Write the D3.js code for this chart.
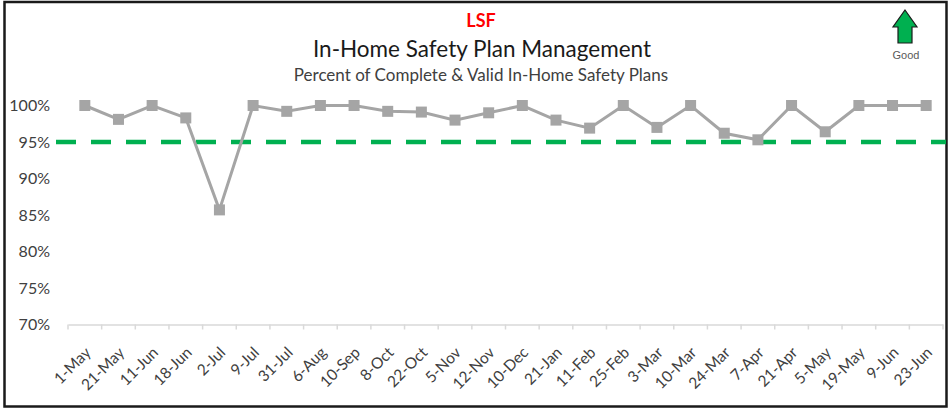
<!DOCTYPE html>
<meta charset="utf-8">
<style>
body { margin: 0; background: #fff; font-family: Lato, "Open Sans", sans-serif; }
.axis text { font-family: Lato, sans-serif; fill: #404040; }
.x.axis path, .x.axis line { stroke: #d9d9d9; stroke-width: 1.5px; }
.y.axis path, .y.axis line { display: none; }
</style>
<body>
<script src="https://d3js.org/d3.v7.min.js"></script>
<script>

var dates = ["1-May", "21-May", "11-Jun", "18-Jun", "2-Jul", "9-Jul", "31-Jul", "6-Aug", "10-Sep",
  "8-Oct", "22-Oct", "5-Nov", "12-Nov", "10-Dec", "21-Jan", "11-Feb", "25-Feb", "3-Mar", "10-Mar",
  "24-Mar", "7-Apr", "21-Apr", "5-May", "19-May", "9-Jun", "23-Jun"];
var pct = [100, 98.1, 100, 98.3, 85.7, 100, 99.2, 100, 100, 99.2, 99.1, 98.0, 99.0, 100, 98.0, 96.9,
  100, 97.0, 100, 96.2, 95.3, 100, 96.4, 100, 100, 100];
var goal = 95;
var yTicks = [70, 75, 80, 85, 90, 95, 100];

var W = 949, H = 410;
var margin = {top: 105.5, right: 6, bottom: 85, left: 68},
    width = W - margin.left - margin.right,
    height = H - margin.top - margin.bottom;

var svg = d3.select("body").append("svg")
    .attr("width", W)
    .attr("height", H);

// frame
svg.append("rect")
    .attr("x", 4.5).attr("y", 2).attr("width", 942).attr("height", 404.5)
    .attr("fill", "none").attr("stroke", "#1a1a1a").attr("stroke-width", 2.5);

// titles
svg.append("text").attr("x", 481).attr("y", 27).attr("text-anchor", "middle")
    .style("font-family", "Lato, sans-serif").style("font-weight", "bold")
    .style("font-size", "18px").style("fill", "#ff0000").text("LSF");
svg.append("text").attr("x", 482).attr("y", 57).attr("text-anchor", "middle")
    .style("font-size", "22.5px").style("fill", "#1a1a1a").text("In-Home Safety Plan Management");
svg.append("text").attr("x", 481).attr("y", 81).attr("text-anchor", "middle")
    .style("font-size", "17px").style("fill", "#404040").text("Percent of Complete & Valid In-Home Safety Plans");

// good arrow
var ax = 905, ay = 10;
svg.append("path")
    .attr("d", "M" + ax + "," + ay + " L" + (ax + 12) + "," + (ay + 17) + " L" + (ax + 7) + "," + (ay + 17) +
      " L" + (ax + 7) + "," + (ay + 33) + " L" + (ax - 7) + "," + (ay + 33) + " L" + (ax - 7) + "," + (ay + 17) +
      " L" + (ax - 12) + "," + (ay + 17) + " Z")
    .attr("fill", "#00b050").attr("stroke", "#1a1a1a").attr("stroke-width", 1.2);
svg.append("text").attr("x", ax + 1).attr("y", 59).attr("text-anchor", "middle")
    .style("font-family", "'Liberation Sans', Arial, sans-serif")
    .style("font-size", "11px").style("fill", "#595959").text("Good");

var g = svg.append("g")
    .attr("transform", "translate(" + margin.left + "," + margin.top + ")");

var x = d3.scaleBand().domain(dates).range([0, width]);
var y = d3.scaleLinear().domain([70, 100]).range([height - 0.5, 0]);

var xAxis = d3.axisBottom(x).tickSize(5).tickSizeOuter(0);

g.append("g")
    .attr("class", "x axis")
    .attr("transform", "translate(0," + y(70) + ")")
    .call(xAxis)
    .call(function(s) {
      // Excel style: ticks between categories
      s.selectAll(".tick line").attr("x1", -x.bandwidth() / 2).attr("x2", -x.bandwidth() / 2);
      s.append("line").attr("x1", width).attr("x2", width).attr("y1", 0).attr("y2", 5)
        .attr("stroke", "#d9d9d9").attr("stroke-width", 1.5);
    })
    .selectAll("text")
      .style("font-size", "15.5px")
      .attr("text-anchor", "end")
      .attr("x", 0)
      .attr("y", 0)
      .attr("dy", 0)
      .attr("transform", "translate(7,29) rotate(-45)");

g.append("g")
    .attr("class", "y axis")
    .call(d3.axisLeft(y).tickValues(yTicks).tickSize(0).tickPadding(18)
      .tickFormat(function(d) { return d + "%"; }))
    .selectAll("text")
      .style("font-size", "16px");

// goal line
g.append("line")
    .attr("x1", -12).attr("x2", width + 3)
    .attr("y1", y(goal)).attr("y2", y(goal))
    .attr("stroke", "#00b050").attr("stroke-width", 4.5)
    .attr("stroke-dasharray", "20,15");

var data = dates.map(function(d, i) { return {date: d, v: pct[i]}; });

var line = d3.line()
    .x(function(d) { return x(d.date) + x.bandwidth() / 2; })
    .y(function(d) { return y(d.v); });

g.append("path")
    .datum(data)
    .attr("fill", "none")
    .attr("stroke", "#a5a5a5")
    .attr("stroke-width", 3)
    .attr("d", line);

var ms = 11;
g.selectAll(".pt")
    .data(data)
  .enter().append("rect")
    .attr("class", "pt")
    .attr("x", function(d) { return x(d.date) + x.bandwidth() / 2 - ms / 2; })
    .attr("y", function(d) { return y(d.v) - ms / 2; })
    .attr("width", ms).attr("height", ms)
    .attr("fill", "#a5a5a5");

</script>
